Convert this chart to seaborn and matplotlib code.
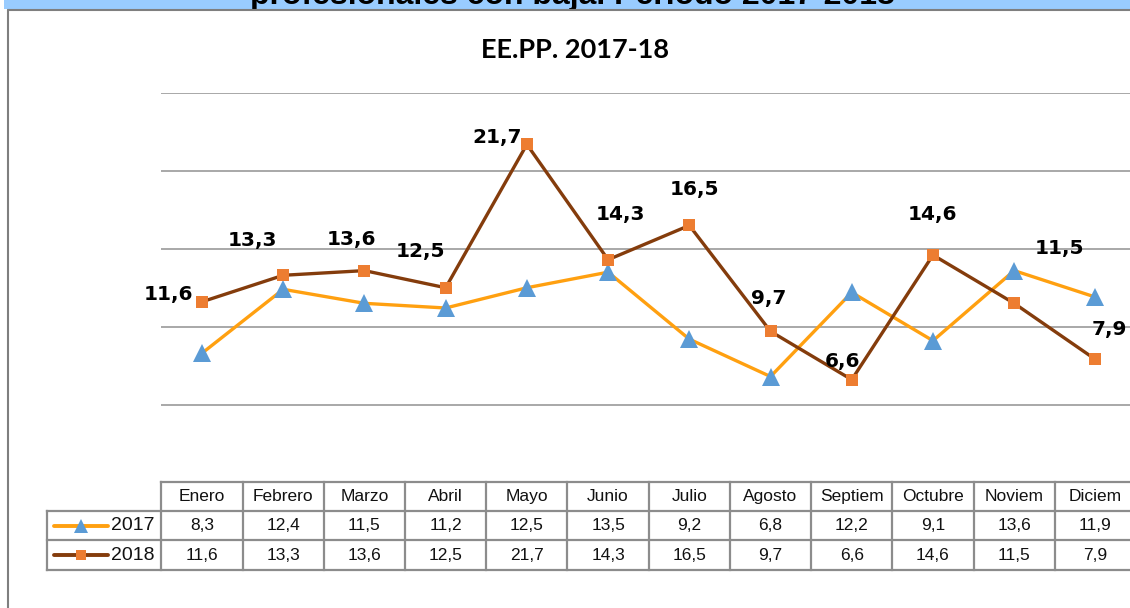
import numpy as np
import pandas as pd
import matplotlib
matplotlib.use("Agg")
import matplotlib.pyplot as plt
import matplotlib.transforms as mtransforms
from matplotlib.lines import Line2D
from matplotlib.patches import Rectangle
import seaborn as sns

# ---- data ----
months = ["Enero", "Febrero", "Marzo", "Abril", "Mayo", "Junio", "Julio",
          "Agosto", "Septiem", "Octubre", "Noviem", "Diciem"]
series_names = ["2017", "2018"]
values_2017 = [8.3, 12.4, 11.5, 11.2, 12.5, 13.5, 9.2, 6.8, 12.2, 9.1, 13.6, 11.9]
values_2018 = [11.6, 13.3, 13.6, 12.5, 21.7, 14.3, 16.5, 9.7, 6.6, 14.6, 11.5, 7.9]
title = "EE.PP. 2017-18"
banner = "profesionales con baja. Periodo 2017-2018"

# ---- styles ----
line_colors = {"2017": "#FFA010", "2018": "#843C0C"}
marker_colors = {"2017": "#5B9BD5", "2018": "#ED7D31"}
markers = {"2017": "^", "2018": "s"}
marker_sizes = {"2017": 13, "2018": 9}
grid_color = "#9a9a9a"
table_color = "#8c8c8c"
# label offsets (pixels) for the 2018 data labels
label_offsets = [(-34, 7), (-31, 35), (-13, 31), (-25, 36), (-30, 7), (12, 45),
                 (5, 36), (-2, 33), (-9, 18), (-1, 41), (45, 55), (14, 30)]

W, H = 1130, 608
sns.set_theme(style="white")
plt.rcParams["font.family"] = ["DejaVu Sans"]

fig = plt.figure(figsize=(W / 100, H / 100), dpi=100)

def fx(px):
    return px / W

def fy(py):
    return 1 - py / H

# outer frame pieces and banner band
fig.patches.append(Rectangle((fx(4), fy(9)), 1, 1, transform=fig.transFigure,
                             facecolor="#99CCFF", edgecolor="none", zorder=0))
fig.text(fx(572), fy(4), banner, ha="center", va="baseline", fontsize=23,
         fontweight="bold", family="Liberation Sans", color="black", zorder=1)
fig.add_artist(Line2D([fx(8), 1], [fy(9.5), fy(9.5)], transform=fig.transFigure,
                      color="#7f7f7f", lw=1.5))
fig.add_artist(Line2D([fx(8), fx(8)], [fy(9.5), 0], transform=fig.transFigure,
                      color="#7f7f7f", lw=1.5))

# plot area
left_px, right_px = 161.4, 1136.0
top_px, bottom_px = 93.0, 482.5
ax = fig.add_axes([fx(left_px), fy(bottom_px), fx(right_px - left_px),
                   (bottom_px - top_px) / H])
ax.set_facecolor("none")

df = pd.DataFrame({
    "mes": np.tile(np.arange(len(months)), 2),
    "valor": values_2017 + values_2018,
    "serie": np.repeat(series_names, len(months)),
})

for k, name in enumerate(series_names):
    sub = df[df["serie"] == name]
    sns.lineplot(data=sub, x="mes", y="valor", ax=ax, color=line_colors[name],
                 linewidth=2.4, marker=markers[name],
                 markersize=marker_sizes[name],
                 markerfacecolor=marker_colors[name], markeredgewidth=0,
                 zorder=3 + k, legend=False)

for i, v in enumerate(values_2018):
    dx, dy = label_offsets[i]
    ax.annotate(f"{v:.1f}".replace(".", ","), (i, v), xytext=(dx, dy),
                textcoords="offset pixels", ha="center", va="center",
                fontsize=14.5, fontweight="bold", color="black", zorder=6)

ax.set_xlim(-0.5, len(months) - 0.5)
ax.set_ylim(0, 25)
ax.set_yticks([5, 10, 15, 20, 25])
ax.yaxis.grid(True, color=grid_color, linewidth=1.2)
ax.xaxis.grid(False)
ax.set_xticks([])
ax.tick_params(left=False, labelleft=False)
ax.set_xlabel("")
ax.set_ylabel("")
for s in ax.spines.values():
    s.set_visible(False)

fig.text(fx(575), fy(50), title, ha="center", va="center", fontsize=19.5,
         fontweight="bold", family="Lato", color="black")

# ---- data table under the plot ----
tr = mtransforms.blended_transform_factory(ax.transData, fig.transFigure)
row_lines = [482, 511, 540, 570]
x_lo = -0.5
x_hi = len(months) - 0.5
x_leg = (47 - left_px) / ((right_px - left_px) / len(months)) - 0.5
lkw = dict(transform=tr, color=table_color, lw=1.6, clip_on=False,
           solid_capstyle="projecting")

fig.add_artist(Line2D([x_lo, x_hi], [fy(row_lines[0])] * 2, **lkw))
for y in row_lines[1:]:
    fig.add_artist(Line2D([x_leg, x_hi], [fy(y)] * 2, **lkw))
for j in range(len(months) + 1):
    xb = j - 0.5
    fig.add_artist(Line2D([xb, xb], [fy(row_lines[0]), fy(row_lines[-1])], **lkw))
fig.add_artist(Line2D([x_leg, x_leg], [fy(row_lines[1]), fy(row_lines[-1])], **lkw))

tkw = dict(transform=tr, ha="center", va="center", fontsize=12.5,
           family="Liberation Sans", color="#111111")
for j, m in enumerate(months):
    fig.text(j, fy((row_lines[0] + row_lines[1]) / 2), m, **tkw)
rows = [values_2017, values_2018]
for r, (name, vals) in enumerate(zip(series_names, rows)):
    yc = fy((row_lines[r + 1] + row_lines[r + 2]) / 2)
    for j, v in enumerate(vals):
        fig.text(j, yc, f"{v:.1f}".replace(".", ","), **tkw)
    # legend key in the row header
    fig.add_artist(Line2D([fx(54), fx(108)], [yc, yc], transform=fig.transFigure,
                          color=line_colors[name], lw=2.8))
    fig.add_artist(Line2D([fx(81)], [yc], transform=fig.transFigure,
                          marker=markers[name], markersize=marker_sizes[name] * 0.75,
                          markerfacecolor=marker_colors[name], markeredgewidth=0,
                          linestyle="none"))
    fig.text(fx(133), yc, name, ha="center", va="center", fontsize=14,
             family="Liberation Sans", color="#111111")

fig.savefig("out.png", dpi=100)
